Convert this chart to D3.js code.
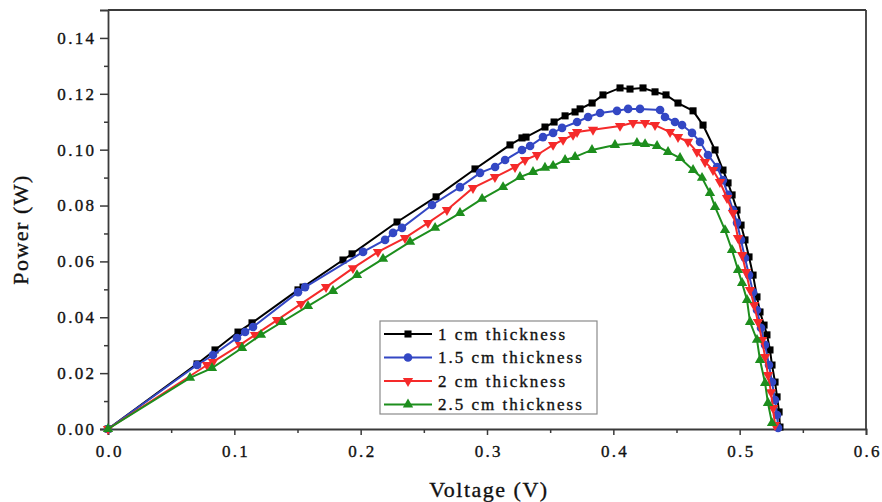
<!DOCTYPE html>
<html>
<head>
<meta charset="utf-8">
<script src="https://cdn.jsdelivr.net/npm/d3@7/dist/d3.min.js"></script>
<style>
  html, body { margin: 0; padding: 0; background: #fff; }
  svg { display: block; }
  text { font-family: "Liberation Serif", "Times New Roman", serif; fill: #111; stroke: #111; stroke-width: 0.35px; }
</style>
</head>
<body>
<svg id="chart" width="882" height="502"></svg>
<script>
// ---- Data ----
const seriesNames = ["1 cm thickness", "1.5 cm thickness", "2 cm thickness", "2.5 cm thickness"];
const seriesColors = ["#000000", "#3347c4", "#f52a2a", "#1d8e1d"];
const seriesShapes = ["square", "circle", "triangleDown", "triangleUp"];

const voltage1 = [0, 0.0705, 0.0847, 0.1029, 0.114, 0.1504, 0.1544, 0.186, 0.1932, 0.2288, 0.2597, 0.2905, 0.3182, 0.3277, 0.3309, 0.3459, 0.3531, 0.3618, 0.3697, 0.3737, 0.3832, 0.3918, 0.4053, 0.4132, 0.4235, 0.4330, 0.4417, 0.4512, 0.4631, 0.4710, 0.4805, 0.4868, 0.4908, 0.4940, 0.4979, 0.5011, 0.5042, 0.5074, 0.5106, 0.5137, 0.5161, 0.5193, 0.5216, 0.5240, 0.5256, 0.5280, 0.5296, 0.5312, 0.5319];
const power1   = [0, 0.0233, 0.0283, 0.0347, 0.038, 0.0498, 0.0508, 0.0605, 0.0627, 0.0741, 0.0831, 0.0931, 0.1017, 0.1042, 0.1045, 0.1081, 0.1099, 0.1121, 0.1135, 0.1146, 0.1167, 0.1196, 0.1221, 0.1217, 0.1221, 0.1207, 0.1196, 0.1167, 0.1139, 0.1088, 0.0999, 0.0927, 0.0881, 0.0838, 0.0784, 0.0730, 0.0677, 0.0616, 0.0551, 0.0473, 0.0419, 0.0372, 0.0337, 0.0283, 0.0229, 0.0168, 0.0115, 0.0061, 0.0007];

const voltage15 = [0, 0.0705, 0.0831, 0.1021, 0.1085, 0.1148, 0.1504, 0.156, 0.2019, 0.2193, 0.2256, 0.2327, 0.2565, 0.2786, 0.2945, 0.3064, 0.3143, 0.3277, 0.3341, 0.3443, 0.3523, 0.3594, 0.3713, 0.380, 0.3895, 0.4029, 0.4117, 0.4211, 0.4370, 0.4409, 0.4488, 0.4544, 0.4623, 0.4686, 0.4749, 0.4821, 0.4868, 0.4908, 0.4947, 0.4979, 0.5010, 0.5042, 0.5074, 0.5106, 0.5137, 0.5169, 0.5201, 0.5232, 0.5256, 0.5280, 0.5296, 0.5304];
const power15   = [0, 0.0229, 0.0265, 0.0326, 0.0347, 0.0365, 0.0490, 0.0508, 0.0634, 0.0677, 0.0702, 0.0720, 0.0802, 0.0866, 0.0917, 0.0938, 0.0963, 0.0999, 0.1013, 0.1045, 0.1060, 0.1078, 0.1099, 0.1117, 0.1131, 0.1139, 0.1146, 0.1146, 0.1142, 0.1117, 0.1099, 0.1088, 0.1060, 0.1028, 0.0981, 0.0938, 0.0891, 0.0838, 0.0784, 0.0738, 0.0677, 0.0612, 0.0551, 0.0490, 0.0426, 0.0362, 0.0301, 0.0229, 0.0168, 0.0104, 0.0050, 0.0004];

const voltage2 = [0, 0.0784, 0.0831, 0.1045, 0.1164, 0.1338, 0.1528, 0.1726, 0.1939, 0.2137, 0.2351, 0.2533, 0.2683, 0.2889, 0.3063, 0.3222, 0.3301, 0.3396, 0.3523, 0.3602, 0.3681, 0.3713, 0.3839, 0.4053, 0.4156, 0.4251, 0.4330, 0.4449, 0.4512, 0.4591, 0.4662, 0.4726, 0.4789, 0.4844, 0.4900, 0.4947, 0.4987, 0.5019, 0.5050, 0.5082, 0.5114, 0.5145, 0.5177, 0.5201, 0.5224, 0.5248, 0.5264, 0.5280];
const power2   = [0, 0.0229, 0.0240, 0.0301, 0.0337, 0.0390, 0.0448, 0.0508, 0.0576, 0.0634, 0.0684, 0.0738, 0.0784, 0.0863, 0.0902, 0.0938, 0.0963, 0.0981, 0.1017, 0.1035, 0.1053, 0.1063, 0.1071, 0.1085, 0.1096, 0.1096, 0.1088, 0.1063, 0.1045, 0.1028, 0.0992, 0.0956, 0.0927, 0.0884, 0.0827, 0.0773, 0.0684, 0.0623, 0.0562, 0.0498, 0.0444, 0.0383, 0.0319, 0.0258, 0.0193, 0.0132, 0.0075, 0.0014];

const voltage25 = [0, 0.0649, 0.0823, 0.1061, 0.1211, 0.1377, 0.1583, 0.1781, 0.1971, 0.2177, 0.2391, 0.2589, 0.2786, 0.2961, 0.3127, 0.3261, 0.3364, 0.3459, 0.3523, 0.3618, 0.3697, 0.3831, 0.4013, 0.4187, 0.4251, 0.4346, 0.4433, 0.4528, 0.4631, 0.4702, 0.4765, 0.4805, 0.4884, 0.4939, 0.4987, 0.5019, 0.5058, 0.5082, 0.5137, 0.5161, 0.5201, 0.5224, 0.5256];
const power25   = [0, 0.0183, 0.0218, 0.0290, 0.0337, 0.0383, 0.0440, 0.0494, 0.0551, 0.0609, 0.0670, 0.0720, 0.0773, 0.0824, 0.0866, 0.0902, 0.0920, 0.0935, 0.0942, 0.0963, 0.0974, 0.0999, 0.1017, 0.1024, 0.1020, 0.1013, 0.0992, 0.0970, 0.0927, 0.0899, 0.0845, 0.0795, 0.0712, 0.0641, 0.0569, 0.0523, 0.0462, 0.0383, 0.0319, 0.0247, 0.0165, 0.0093, 0.0021];

const xMajorTicks = [0.0, 0.1, 0.2, 0.3, 0.4, 0.5, 0.6];
const xMinorTicks = [0.05, 0.15, 0.25, 0.35, 0.45, 0.55];
const yMajorTicks = [0.00, 0.02, 0.04, 0.06, 0.08, 0.10, 0.12, 0.14];
const yMinorTicks = [0.01, 0.03, 0.05, 0.07, 0.09, 0.11, 0.13];
const xTitle = "Voltage (V)";
const yTitle = "Power (W)";

// ---- Build ----
const voltages = [voltage1, voltage15, voltage2, voltage25];
const powers = [power1, power15, power2, power25];
const series = seriesNames.map((name, i) => ({
  name, color: seriesColors[i], shape: seriesShapes[i],
  points: voltages[i].map((v, j) => ({ v, p: powers[i][j] }))
}));

const svg = d3.select("#chart");
const plotLeft = 108, plotRight = 866, plotTop = 10, plotBottom = 429;

const x = d3.scaleLinear().domain([0, 0.6]).range([plotLeft, plotRight]);
const y = d3.scaleLinear().domain([0, 0.15]).range([plotBottom, plotTop]);

const axisColor = "#3a3a3a";

// frame (top and right)
svg.append("line").attr("x1", plotLeft).attr("x2", plotRight).attr("y1", plotTop).attr("y2", plotTop)
  .attr("stroke", axisColor).attr("stroke-width", 1.8);
svg.append("line").attr("x1", plotRight).attr("x2", plotRight).attr("y1", plotTop).attr("y2", plotBottom)
  .attr("stroke", axisColor).attr("stroke-width", 1.8);

// x axis
const gx = svg.append("g").attr("transform", `translate(0,${plotBottom})`);
gx.call(d3.axisBottom(x).tickValues(xMajorTicks).tickFormat(d3.format(".1f")).tickSize(6).tickPadding(10));
const gxMinor = svg.append("g").attr("transform", `translate(0,${plotBottom})`);
gxMinor.call(d3.axisBottom(x).tickValues(xMinorTicks).tickFormat("").tickSize(4));
gxMinor.select(".domain").remove();

// y axis
const gy = svg.append("g").attr("transform", `translate(${plotLeft},0)`);
gy.call(d3.axisLeft(y).tickValues(yMajorTicks).tickFormat(d3.format(".2f")).tickSize(8).tickPadding(6));
const gyMinor = svg.append("g").attr("transform", `translate(${plotLeft},0)`);
gyMinor.call(d3.axisLeft(y).tickValues(yMinorTicks).tickFormat("").tickSize(4));
gyMinor.select(".domain").remove();

[gx, gy, gxMinor, gyMinor].forEach(g => {
  g.selectAll(".domain").attr("stroke", axisColor).attr("stroke-width", 1.8);
  g.selectAll(".tick line").attr("stroke", axisColor).attr("stroke-width", 1.5);
  g.selectAll("text").attr("font-size", 17).attr("letter-spacing", "2.3px")
    .attr("font-family", "'Liberation Serif', 'Times New Roman', serif")
    .attr("fill", "#111").attr("stroke", "#111").attr("stroke-width", 0.35);
});
gx.selectAll(".tick text").attr("dx", "1.2");
gy.selectAll(".tick text").attr("dx", "2.3");

// titles
svg.append("text").attr("x", 489).attr("y", 497).attr("text-anchor", "middle")
  .attr("font-size", 22).attr("letter-spacing", "1.5px").text(xTitle);
svg.append("text").attr("transform", `translate(28,${(plotTop + plotBottom) / 2 + 10}) rotate(-90)`)
  .attr("text-anchor", "middle").attr("font-size", 22).attr("letter-spacing", "1.5px").text(yTitle);

// symbols
function symbolFor(shape) {
  if (shape === "square") return d3.symbol().type(d3.symbolSquare).size(50)();
  if (shape === "circle") return d3.symbol().type(d3.symbolCircle).size(58)();
  return d3.symbol().type(d3.symbolTriangle).size(46)();
}
function symbolTransform(shape, px, py) {
  return shape === "triangleDown" ? `translate(${px},${py}) rotate(180)` : `translate(${px},${py})`;
}

const line = d3.line().x(d => x(d.v)).y(d => y(d.p));

series.forEach(s => {
  const g = svg.append("g");
  g.append("path").datum(s.points).attr("d", line)
    .attr("fill", "none").attr("stroke", s.color).attr("stroke-width", 2);
  g.selectAll("path.m").data(s.points).enter().append("path").attr("class", "m")
    .attr("d", symbolFor(s.shape))
    .attr("transform", d => symbolTransform(s.shape, x(d.v), y(d.p)))
    .attr("fill", s.color);
});

// legend
const lg = svg.append("g");
lg.append("rect").attr("x", 380).attr("y", 321).attr("width", 217).attr("height", 93)
  .attr("fill", "#fff").attr("stroke", "#8a8a8a").attr("stroke-width", 1.2);
series.forEach((s, i) => {
  const cy = 334 + i * 23.5;
  lg.append("line").attr("x1", 384).attr("x2", 432).attr("y1", cy).attr("y2", cy)
    .attr("stroke", s.color).attr("stroke-width", 2);
  lg.append("path").attr("d", symbolFor(s.shape))
    .attr("transform", symbolTransform(s.shape, 408, cy)).attr("fill", s.color);
  lg.append("text").attr("x", 438).attr("y", cy + 5.5).attr("font-size", 17)
    .attr("letter-spacing", "2px").text(s.name);
});
</script>
</body>
</html>
